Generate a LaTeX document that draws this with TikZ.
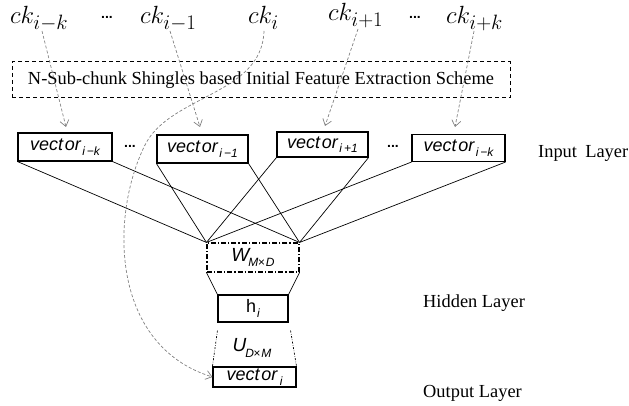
\documentclass[tikz,border=0pt]{standalone}
\usepackage{fontspec}
\setmainfont{Liberation Serif}
\newfontfamily\arialf{Liberation Sans}
\usetikzlibrary{arrows.meta,calc}
\newcommand{\sfit}{\arialf\itshape}
\newcommand{\vsub}[1]{\raisebox{-0.55ex}{\fontsize{12}{12}\selectfont\sfit #1}}
\newcommand{\vlab}[1]{{\sfit vect\kern1.8pt or}\kern1.5pt\vsub{#1}}
\begin{document}
\begin{tikzpicture}[x=1pt,y=-1pt,
  vbox/.style={draw,line width=1.1pt,inner sep=0pt,font=\fontsize{18}{18}\selectfont},
  blink/.style={line width=0.7pt},
  garrow/.style={draw=black!50,line width=0.7pt,dash pattern=on 3pt off 2pt,
     -{Straight Barb[length=6pt,width=9pt,line width=0.7pt]}},
  dotlink/.style={line width=0.7pt,dash pattern=on 2pt off 1.5pt on 0.6pt off 1.5pt},
  layerlab/.style={anchor=base west,inner sep=0pt,font=\fontsize{18.4}{18.4}\selectfont},
  cklab/.style={anchor=base west,inner sep=0pt,font=\fontsize{27.5}{27.5}\selectfont},
  dotslab/.style={inner sep=0pt,font=\arialf\bfseries\fontsize{14}{14}\selectfont}]
\useasboundingbox (0,0) rectangle (629,406);

% top labels
\node[cklab] (ck1) at (10,24) {$ck_{i-k}$};
\node[dotslab] (d1) at (107,17) {...};
\node[cklab] (ck2) at (140,24) {$ck_{i-1}$};
\node[cklab] (ck3) at (248,24) {$ck_{i}$};
\node[cklab] (ck4) at (328,21) {$ck_{i+1}$};
\node[dotslab] (d2) at (415,17) {...};
\node[cklab] (ck5) at (446,24) {$ck_{i+k}$};

% extraction box
\node[draw,line width=1pt,dash pattern=on 4pt off 3pt,minimum width=498pt,minimum height=36pt,
      inner sep=0pt,font=\fontsize{18.4}{18.4}\selectfont] (fe) at (261,80)
      {N-Sub-chunk Shingles based Initial Feature Extraction Scheme};

% vector boxes
\node[vbox,minimum width=94pt,minimum height=28pt] (v1) at (65,147) {\vlab{i\,−k}};
\node[dotslab] (d3) at (130,146) {...};
\node[vbox,minimum width=91pt,minimum height=28pt] (v2) at (202.5,149) {\vlab{i\,−1}};
\node[vbox,minimum width=91pt,minimum height=25pt] (v3) at (322.5,144.5) {\vlab{i\,+1}};
\node[dotslab] (d4) at (393,146) {...};
\node[vbox,minimum width=93pt,minimum height=27pt] (v4) at (458.5,148) {\vlab{i\,−k}};

% layer labels
\node[layerlab] (lin) at (538,158) {Input\hspace{0.45em}Layer};
\node[layerlab] (lhid) at (423,307) {Hidden Layer};
\node[layerlab] (lout) at (423,397) {Output Layer};

% W box, hidden, output
\node[draw,line width=1.1pt,dash pattern=on 5pt off 2pt on 1.2pt off 2pt,minimum width=92pt,
      minimum height=29pt,inner sep=0pt] (W) at (253,257.5)
      {\fontsize{19}{19}\selectfont\sfit W\kern-0.05em\raisebox{-0.55ex}{\fontsize{12}{12}\selectfont M\kern-0.5pt×\kern1pt D}};
\node[vbox,minimum width=70pt,minimum height=27pt] (h) at (253,308.5)
      {\arialf h\raisebox{-0.5ex}{\fontsize{12}{12}\selectfont\sfit\kern1pt i}};
\node[vbox,minimum width=83pt,minimum height=20pt] (out) at (254.5,377) {\vlab{\kern1pt i}};
\node[inner sep=0pt] (U) at (252,348)
      {\fontsize{19}{19}\selectfont\sfit U\kern-0.05em\raisebox{-0.55ex}{\fontsize{12}{12}\selectfont D\kern-0.5pt×\kern1pt M}};

% connections input -> W
\foreach \v in {v1,v2,v3,v4}{
  \draw[blink] (\v.south west) -- (W.north west);
  \draw[blink] (\v.south east) -- (W.north east);
}
\draw[blink] (W.south west) -- (h.north west);
\draw[blink] (W.south east) -- (h.north east);
\draw[dotlink] ($(h.south west)+(0,8)$) -- (out.north west);
\draw[dotlink] ($(h.south east)+(2,8)$) -- (out.north east);

% dashed arrows
\coordinate (s1) at (42,31);  \coordinate (e1) at (66,127);
\coordinate (s2) at (170,31); \coordinate (e2) at (200,127);
\coordinate (s3) at (264,31);
\coordinate (s4) at (358,29); \coordinate (e4) at (325,126);
\coordinate (s5) at (474,31); \coordinate (e5) at (455,127);
\draw[garrow] (s1) -- (e1);
\draw[garrow] (s2) -- (e2);
\draw[garrow] (s4) -- (e4);
\draw[garrow] (s5) -- (e5);
\draw[garrow] (s3) .. controls (262,95) and (170,95) .. (145,145)
               .. controls (110,215) and (110,345) .. (out.west);
\end{tikzpicture}
\end{document}
